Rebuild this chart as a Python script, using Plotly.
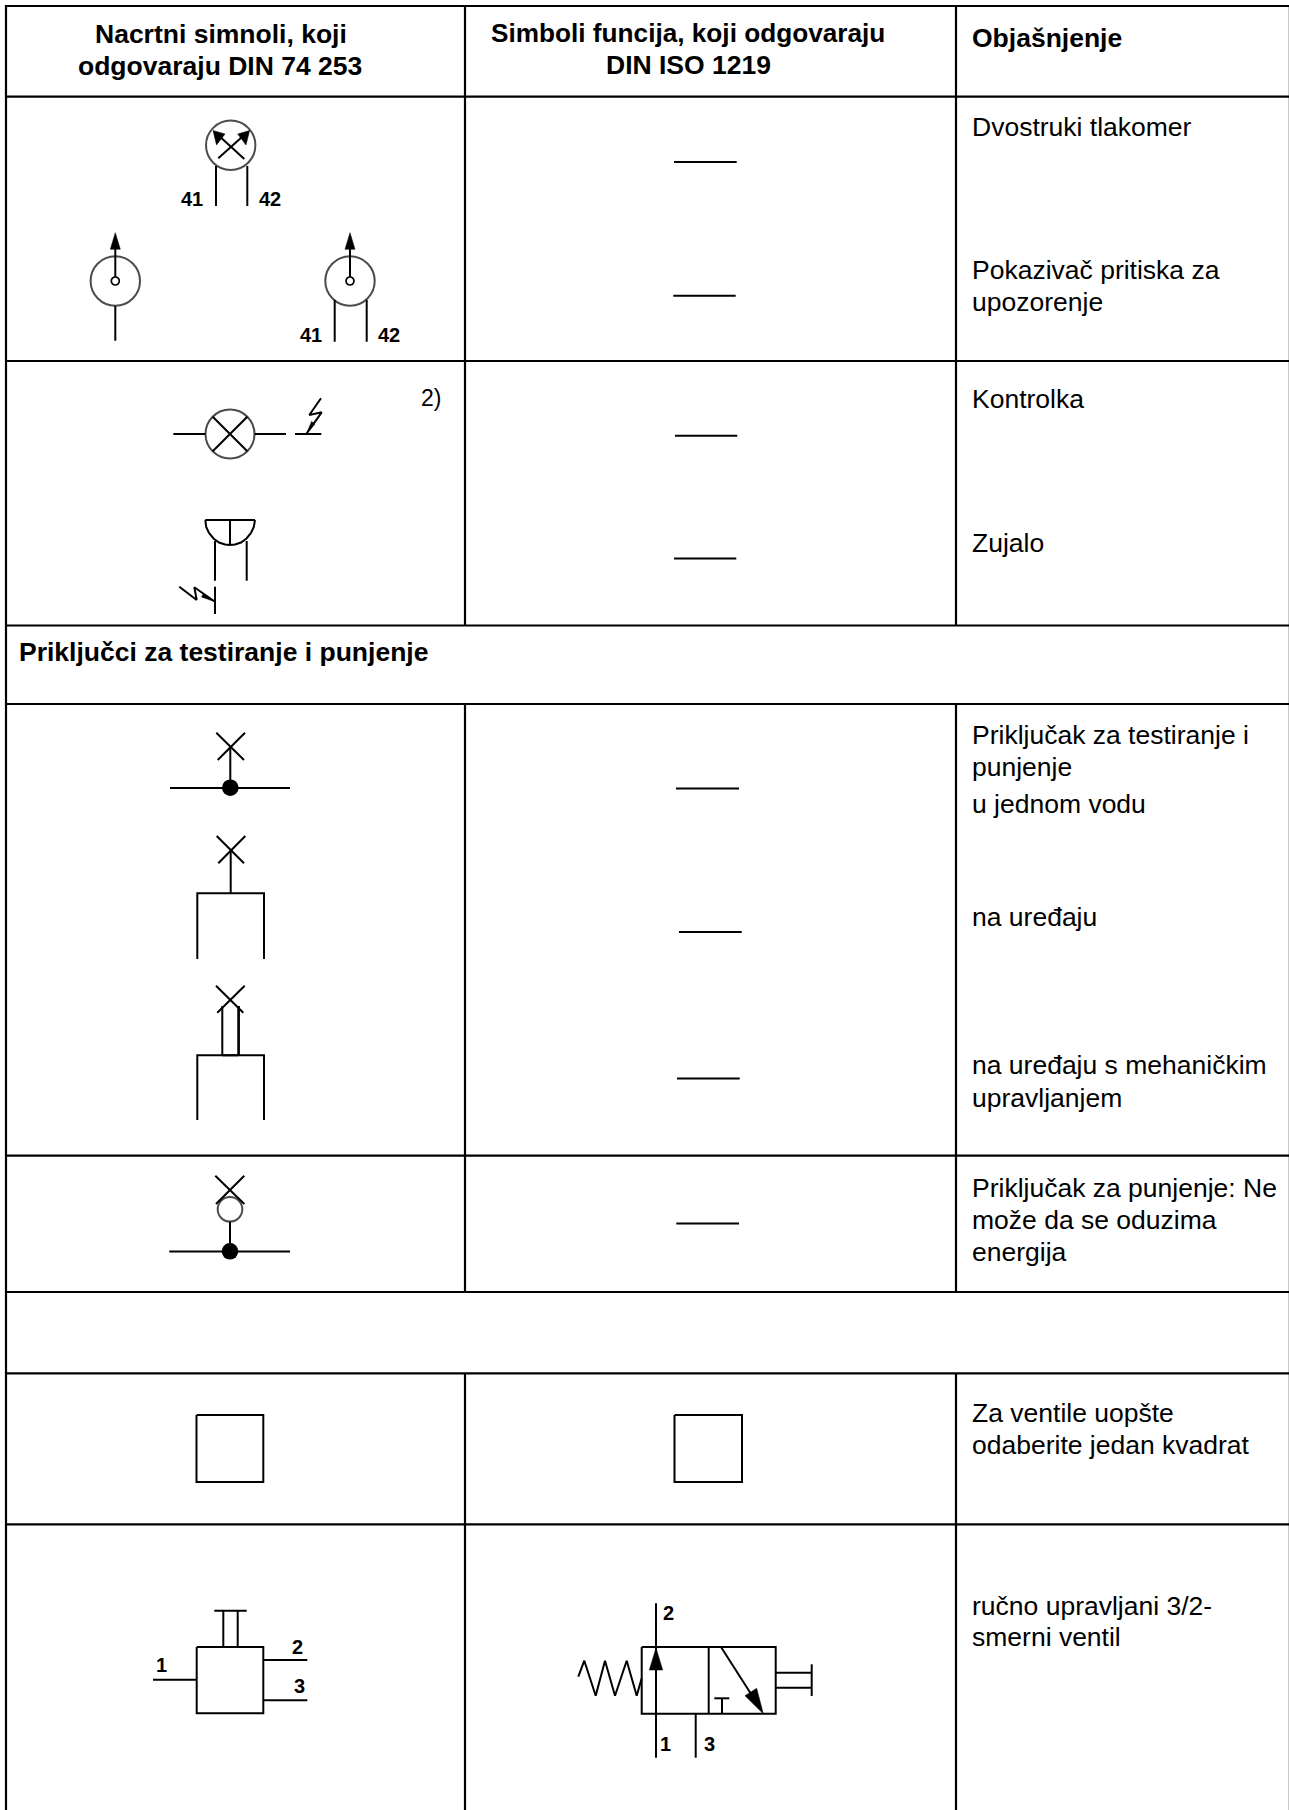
import plotly.graph_objects as go

W, H = 1289, 1810

# ---- table rules (px from top-left) ----
RULE_Y = [6, 96.7, 361, 625.5, 704, 1155.7, 1292, 1373.3, 1524.3]
BORDER_LEFT_X = 6
COLUMN_X = [465, 956]
COLUMN_SPANS = [(6, 625.5), (704, 1292), (1373.3, 1810)]
EDGE_X = 1288.6

# ---- short dashes in the middle column ----
DASH_Y = [162, 295.7, 435.7, 558.6, 788.6, 932, 1078.6, 1223.6]
DASH_X0 = [674, 673.3, 675, 674, 676, 679, 677, 676.3]
DASH_X1 = [736.7, 735.7, 737.3, 736.3, 739, 741.7, 739.7, 739]

# ---- symbol strokes: each one is a list of (x, y) ----
STROKES = [
    # double gauge
    [(216, 166), (216, 206)], [(247.3, 166), (247.3, 206)],
    [(218.3, 158.3), (245.3, 134)], [(244.3, 159), (217, 134)],
    # warning gauges
    [(115.3, 277), (115.3, 240)], [(115.3, 306), (115.3, 340.7)],
    [(350, 277), (350, 240)], [(334.7, 300), (334.7, 341.7)], [(366.7, 300), (366.7, 341.7)],
    # lamp
    [(173.3, 434), (205.5, 434)], [(254.5, 434), (286, 434)], [(295, 434), (321.3, 434)],
    [(212.7, 416.7), (247.3, 451.3)], [(247.3, 416.7), (212.7, 451.3)],
    [(321, 398.3), (309.3, 415), (321.7, 412.3), (306.7, 433.3)],
    # buzzer
    [(205.3, 520), (255, 520)], [(230, 520), (230, 545)],
    [(205.3, 520), (206.2, 527), (209, 533), (213.5, 538.5), (219, 542.5), (225, 544.5), (230, 545),
     (235, 544.5), (241, 542.5), (246.5, 538.5), (251, 533), (253.8, 527), (255, 520)],
    [(215, 541), (215, 580.7)], [(246.7, 541), (246.7, 580.7)], [(215, 586.7), (215, 614)],
    [(179.3, 586.7), (196.7, 600), (194.3, 587.3), (215, 601.7)],
    # test port in a line
    [(216.3, 732.7), (244, 760)], [(245, 732.7), (217.7, 760)], [(230.3, 746.7), (230.3, 787)],
    [(170, 788), (290, 788)],
    # test port on a device
    [(216.7, 836), (244, 863.3)], [(245.3, 836), (218.3, 863.3)], [(230.7, 850.7), (230.7, 893.3)],
    [(197.3, 959), (197.3, 893.3), (264, 893.3), (264, 959)],
    # test port, mechanically operated
    [(216, 985.7), (243.3, 1012.7)], [(244.7, 985.7), (217.3, 1012.7)],
    [(222.3, 1006), (222.3, 1055.3)], [(238.3, 1006), (238.3, 1055.3)], [(238.9, 1006), (238.9, 1055.3)],
    [(222.3, 1055.3), (238.3, 1055.3)],
    [(197.3, 1120), (197.3, 1055.3), (264, 1055.3), (264, 1120)],
    # filling port
    [(215.3, 1175.7), (244.3, 1204)], [(244.3, 1175.7), (216, 1204)], [(230, 1221.7), (230, 1251)],
    [(169.3, 1251.5), (290, 1251.5)],
    # plain squares
    [(196.5, 1415), (263.3, 1415), (263.3, 1482), (196.5, 1482), (196.5, 1415)],
    [(674.5, 1415), (742, 1415), (742, 1482), (674.5, 1482), (674.5, 1415)],
    # left valve
    [(196.7, 1647), (263.3, 1647), (263.3, 1713.3), (196.7, 1713.3), (196.7, 1647)],
    [(223.3, 1647), (223.3, 1610.7)], [(237.7, 1647), (237.7, 1610.7)], [(214.3, 1610.7), (246.7, 1610.7)],
    [(153, 1679.7), (196.7, 1679.7)], [(263.3, 1660), (307.3, 1660)], [(263.3, 1700.3), (307.3, 1700.3)],
    # right valve
    [(641.7, 1647), (775.7, 1647), (775.7, 1713.7), (641.7, 1713.7), (641.7, 1647)],
    [(708.7, 1647), (708.7, 1713.7)], [(656, 1603.3), (656, 1757.7)], [(695.7, 1713.7), (695.7, 1757.7)],
    [(578.3, 1676.7), (584.3, 1660.7), (595.7, 1695.7), (605, 1660.7), (615, 1695.7), (626.7, 1660.7),
     (636.7, 1695.7), (641.7, 1678.3)],
    [(722, 1698.3), (722, 1713.7)], [(714.3, 1698.3), (729.3, 1698.3)],
    [(721, 1647), (760, 1708)],
    [(775.7, 1672.7), (811.7, 1672.7)], [(775.7, 1687.7), (811.7, 1687.7)], [(811.7, 1664.3), (811.7, 1696)],
]

# ---- filled arrow heads ----
HEADS = [
    [(213, 130.5), (225, 134), (216.5, 145)],
    [(249.6, 130.5), (237.7, 134), (246, 145)],
    [(115.3, 232.7), (110.3, 249.3), (120.3, 249.3)],
    [(350, 232.7), (345, 249.3), (355, 249.3)],
    [(306.7, 433.3), (311.5, 421.5), (315, 424)],
    [(215, 601.7), (203.5, 593.5), (201.5, 597)],
    [(656, 1648), (649.3, 1670), (662.7, 1670)],
    [(763.3, 1713.7), (745, 1695.7), (756.7, 1688.3)],
]

# ---- circles: centre and diameter ----
RING_X = [230.7, 115.3, 350, 230, 230]
RING_Y = [145.3, 281, 281, 434, 1209.3]
RING_D = [49.4, 49.4, 49.4, 49, 24.6]
SMALL_RING_X = [115.3, 350]
SMALL_RING_Y = [281, 281]
DOT_X = [230.3, 230]
DOT_Y = [787.7, 1251.3]

# ---- text ----
HEADER_TEXT = ["Nacrtni simnoli, koji", "odgovaraju DIN 74 253", "Simboli funcija, koji odgovaraju", "DIN ISO 1219"]
HEADER_CX = [220.5, 220.3, 688, 688]
HEADER_BASE = [43.4, 75, 42.2, 74.3]
HEADER_SIZE = [26.5, 26.5, 26.2, 26.5]

BOLD_TEXT = ["Objašnjenje", "Priključci za testiranje i punjenje"]
BOLD_X = [972.4, 18.8]
BOLD_BASE = [47.7, 661.5]

BODY_TEXT = ["Dvostruki tlakomer", "Pokazivač pritiska za", "upozorenje", "Kontrolka", "Zujalo",
             "Priključak za testiranje i", "punjenje", "u jednom vodu", "na uređaju",
             "na uređaju s mehaničkim", "upravljanjem", "Priključak za punjenje: Ne",
             "može da se oduzima", "energija", "Za ventile uopšte", "odaberite jedan kvadrat",
             "ručno upravljani 3/2-", "smerni ventil"]
BODY_BASE = [136, 279.3, 311.7, 408.3, 552.4, 744, 776, 813, 926.4, 1074.3, 1107.4, 1197.3, 1229.3,
             1261.7, 1422, 1454, 1615, 1646.4]
BODY_X = 971.5

PIN_TEXT = ["41", "42", "41", "42", "1", "2", "3", "2", "1", "3"]
PIN_CX = [191.5, 270, 310.5, 388.5, 161.6, 297.7, 299, 668, 665.7, 709.7]
PIN_BASE = [206, 206, 341.7, 341.7, 1672, 1653.7, 1693, 1620, 1751, 1751]

NOTE_TEXT = "2)"
NOTE_X, NOTE_BASE = 421, 406

FONT = "Liberation Sans"
BODY_SIZE = 26.5
PIN_SIZE = 20
NOTE_SIZE = 23
DESCENT = 0.212


def joined(polys):
    xs, ys = [], []
    for p in polys:
        xs += [q[0] for q in p] + [None]
        ys += [q[1] for q in p] + [None]
    return xs, ys


def add_lines(fig, polys, width, color="#000000"):
    xs, ys = joined(polys)
    fig.add_trace(go.Scatter(x=xs, y=ys, mode="lines", hoverinfo="skip",
                             line=dict(color=color, width=width)))


def add_text(fig, text, x, base, size, bold=False, anchor="left", color="#000000"):
    label = f"<b>{text}</b>" if bold else text
    fig.add_annotation(x=x, y=base + DESCENT * size, xref="x", yref="y", text=label, showarrow=False,
                       xanchor=anchor, yanchor="bottom", borderpad=0, borderwidth=0,
                       font=dict(family=FONT, size=size, color=color))


fig = go.Figure()

# grey page edge, then table rules
add_lines(fig, [[(EDGE_X, 6), (EDGE_X, H)]], 1, "#c4c4c4")
rules = [[(BORDER_LEFT_X, y), (W, y)] for y in RULE_Y]
rules.append([(BORDER_LEFT_X, 5), (BORDER_LEFT_X, H)])
for cx in COLUMN_X:
    for a, b in COLUMN_SPANS:
        rules.append([(cx, a), (cx, b)])
add_lines(fig, rules, 2.2)

add_lines(fig, [[(a, y), (b, y)] for a, b, y in zip(DASH_X0, DASH_X1, DASH_Y)], 2)

# rings sit under the strokes
fig.add_trace(go.Scatter(x=RING_X, y=RING_Y, mode="markers", hoverinfo="skip",
                         marker=dict(symbol="circle", size=RING_D, color="rgba(255,255,255,0)",
                                     line=dict(color="#000000", width=2))))
add_lines(fig, STROKES, 2)

for head in HEADS:
    fig.add_trace(go.Scatter(x=[p[0] for p in head] + [head[0][0]], y=[p[1] for p in head] + [head[0][1]],
                             mode="lines", fill="toself", fillcolor="#000000", hoverinfo="skip",
                             line=dict(color="#000000", width=0.5)))

fig.add_trace(go.Scatter(x=SMALL_RING_X, y=SMALL_RING_Y, mode="markers", hoverinfo="skip",
                         marker=dict(symbol="circle", size=8, color="#ffffff",
                                     line=dict(color="#000000", width=1.7))))
fig.add_trace(go.Scatter(x=DOT_X, y=DOT_Y, mode="markers", hoverinfo="skip",
                         marker=dict(symbol="circle", size=16.6, color="#000000", line=dict(width=0))))

for t, x, b, s in zip(HEADER_TEXT, HEADER_CX, HEADER_BASE, HEADER_SIZE):
    add_text(fig, t, x, b, s, bold=True, anchor="center")
for t, x, b in zip(BOLD_TEXT, BOLD_X, BOLD_BASE):
    add_text(fig, t, x, b, BODY_SIZE, bold=True)
for t, b in zip(BODY_TEXT, BODY_BASE):
    add_text(fig, t, BODY_X, b, BODY_SIZE)
for t, x, b in zip(PIN_TEXT, PIN_CX, PIN_BASE):
    add_text(fig, t, x, b, PIN_SIZE, bold=True, anchor="center")
add_text(fig, NOTE_TEXT, NOTE_X, NOTE_BASE, NOTE_SIZE)

fig.update_layout(
    width=W, height=H, autosize=False, showlegend=False,
    margin=dict(l=0, r=0, t=0, b=0, pad=0),
    paper_bgcolor="#ffffff", plot_bgcolor="#ffffff",
    xaxis=dict(range=[0, W], visible=False, fixedrange=True),
    yaxis=dict(range=[H, 0], visible=False, fixedrange=True),
)

fig.write_html("out.html", config=dict(displayModeBar=False),
               post_script="document.body.style.margin='0';document.documentElement.style.overflow='hidden';")
